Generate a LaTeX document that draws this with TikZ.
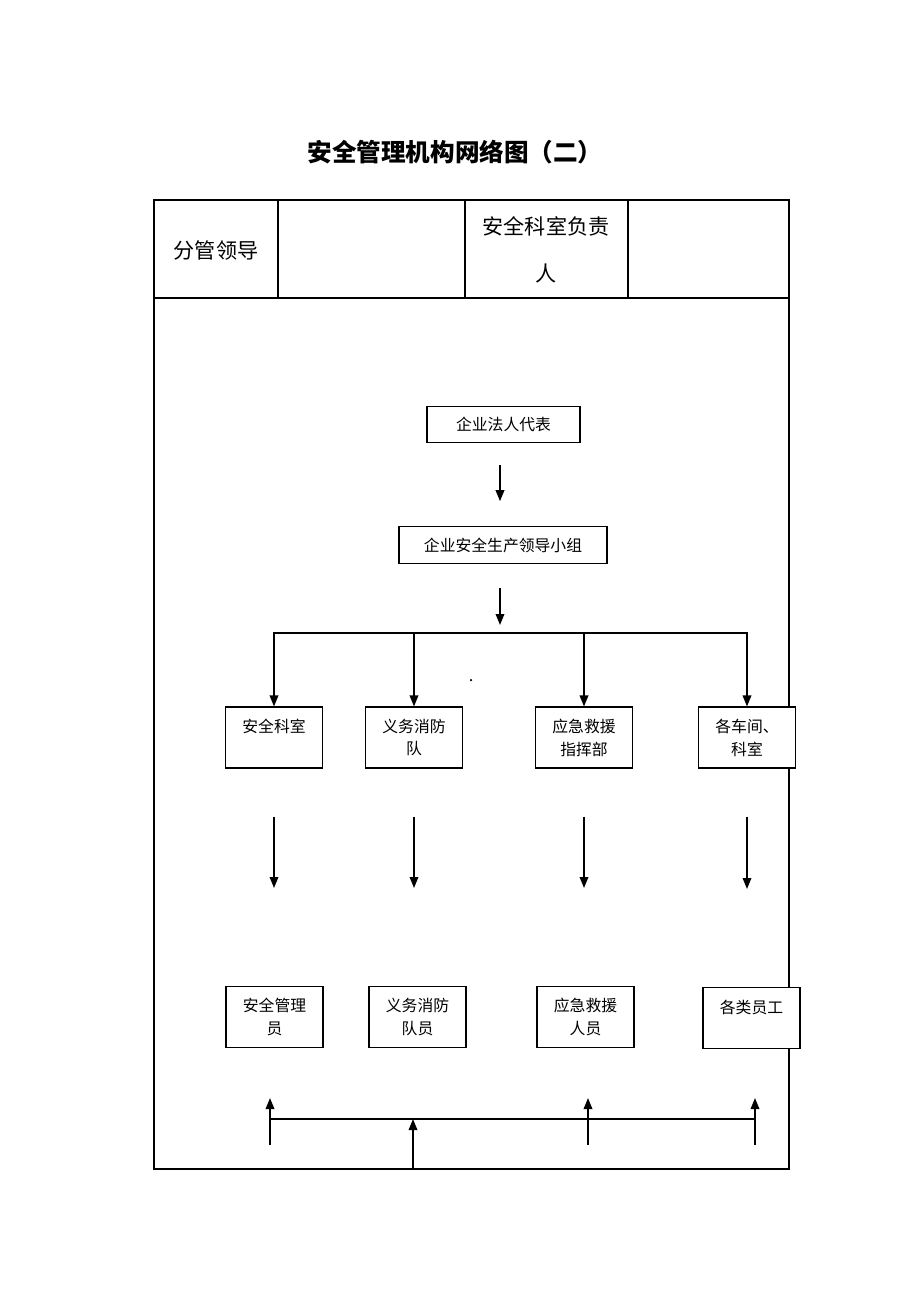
\documentclass[tikz,border=0pt]{standalone}
\usepackage{fontspec}
\setmainfont{Noto Sans CJK SC}
\usetikzlibrary{arrows.meta}

\tikzset{
  unitbox/.style={draw,line width=0.6pt,fill=white,minimum width=1.94cm,
    minimum height=1.22cm,inner sep=0pt,align=center,
    font=\fontsize{9}{13}\selectfont},
  topbox/.style={draw,line width=0.6pt,fill=white,minimum height=0.73cm,
    inner sep=0pt,font=\fontsize{9}{11}\selectfont},
  arr/.style={line width=1pt,-{Triangle[length=2.2mm,width=1.7mm]}},
  barline/.style={line width=1pt},
}

\begin{document}
\begin{tikzpicture}[x=0.02cm,y=-0.02cm]
\useasboundingbox (0,0) rectangle (920,1302);

% title and table head
\node[font=\fontsize{14}{16}\selectfont\bfseries] (title) at (455,152) {安全管理机构网络图（二）};
\draw[line width=1.6pt] (154,200) rectangle (789,1169);
\draw[barline] (154,298) -- (789,298);
\foreach \x in {278,465,628}
  \draw[barline] (\x,200) -- (\x,298);
\node[font=\fontsize{12}{27}\selectfont] (lead) at (216,250) {分管领导};
\node[font=\fontsize{12}{27}\selectfont,align=center] (head) at (546,250) {安全科室负责\\人};

% upper boxes
\coordinate (split) at (500,633);
\node[topbox,minimum width=3.06cm] (rep) at (503.5,424.5) {企业法人代表};
\node[topbox,minimum width=4.16cm] (group) at (503,545) {企业安全生产领导小组};
\draw[arr,shorten <=0.44cm,shorten >=0.5cm] (rep.south -| split) -- (group.north -| split);
\draw[arr,shorten <=0.48cm,shorten >=0.16cm] (group.south -| split) -- (split);

% departments
\node[unitbox] (s1) at (274,737.5) {安全科室\\~};
\node[unitbox] (s2) at (414,737.5) {义务消防\\队};
\node[unitbox] (s3) at (584,737.5) {应急救援\\指挥部};
\node[unitbox] (s4) at (747,737.5) {各车间、\\科室};
\foreach \n in {s1,s2,s3,s4}
  \draw[arr] (split) -| (\n.north);
\fill (471,680) circle (0.025cm);

% staff
\node[unitbox] (t1) at (274.5,1017) {安全管理\\员};
\node[unitbox] (t2) at (417.5,1017) {义务消防\\队员};
\node[unitbox] (t3) at (585.5,1017) {应急救援\\人员};
\node[unitbox] (t4) at (751.5,1018) {各类员工\\~};
\foreach \a/\b in {s1/t1,s2/t2,s3/t3,s4/t4}
  \draw[arr,shorten <=0.96cm,shorten >=1.96cm] (\a.south) -- (\a.south |- \b.north);

% feedback line at the bottom
\coordinate (b1) at (270,1119);
\coordinate (b2) at (413,1119);
\coordinate (b3) at (588,1119);
\coordinate (b4) at (755,1119);
\draw[barline] (b1) -- (b4);
\foreach \c in {b1,b3,b4}
  \draw[arr] ([yshift=-0.52cm]\c) -- ([yshift=0.42cm]\c);
\draw[arr] ([yshift=-1cm]b2) -- (b2);
\end{tikzpicture}
\end{document}
